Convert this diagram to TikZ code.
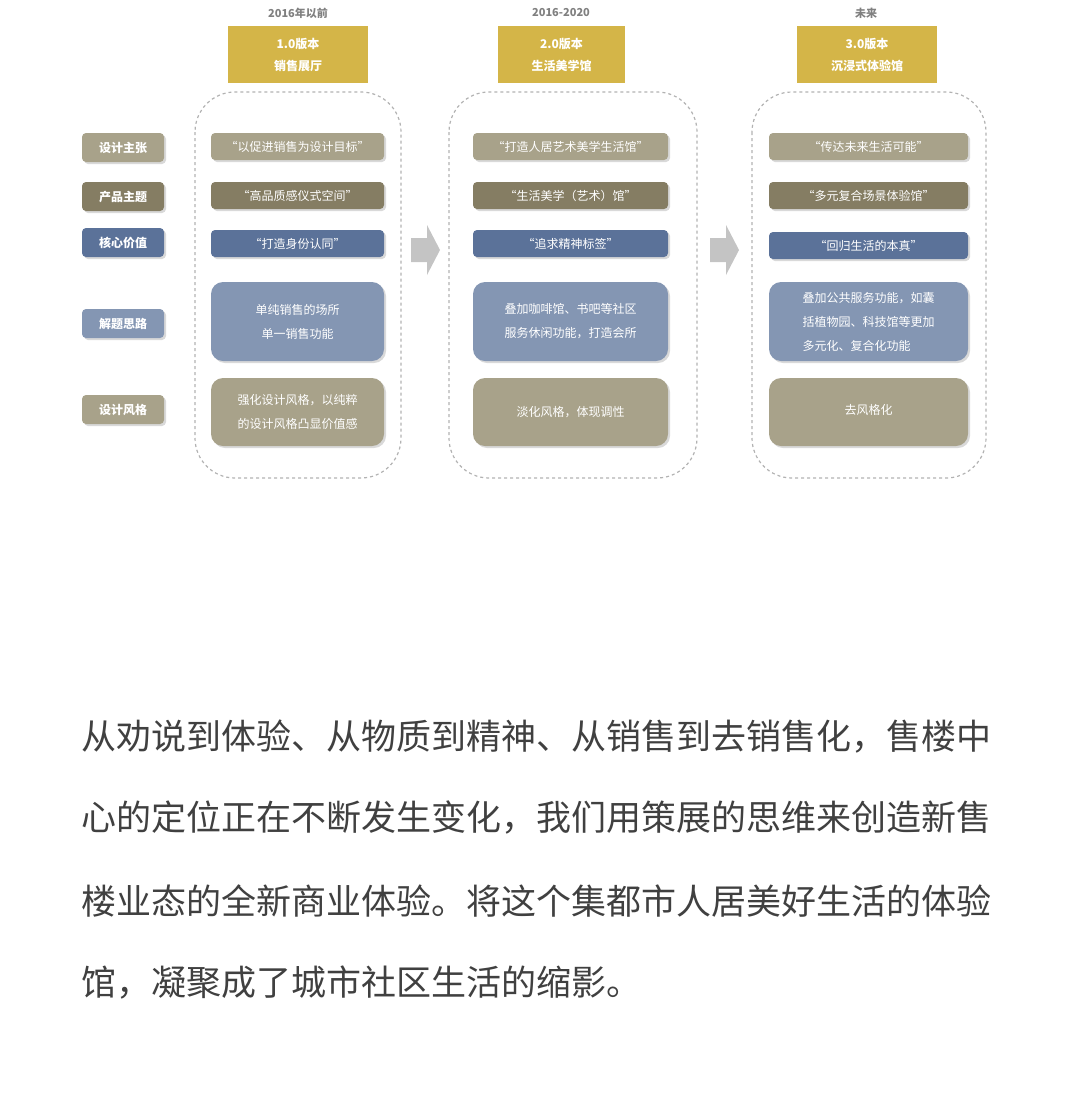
\documentclass[tikz,border=0pt]{standalone}
\usepackage{fontspec}
\setmainfont{Noto Sans CJK SC}
\usetikzlibrary{shadows}
\definecolor{beige}{HTML}{A8A28A}
\definecolor{olive}{HTML}{857D63}
\definecolor{blu}{HTML}{5B7299}
\definecolor{lblu}{HTML}{8496B3}
\definecolor{gold}{HTML}{D4B548}
\definecolor{arr}{HTML}{C4C4C4}
\tikzset{
 bx/.style={rounded corners=4pt,text=white,align=center,font=\fontsize{12}{20}\selectfont,drop shadow={shadow xshift=2pt,shadow yshift=-2pt,opacity=0.3}},
 lab/.style={bx,font=\fontsize{12}{14}\selectfont\bfseries},
 big/.style={rounded corners=12pt,text=white,align=center,font=\fontsize{12}{24}\selectfont,drop shadow={shadow xshift=2pt,shadow yshift=-2pt,opacity=0.3}},
 hd/.style={fill=gold,text=white,align=center,font=\fontsize{12}{22}\selectfont\bfseries},
 yr/.style={text=gray,font=\fontsize{11}{12}\selectfont\bfseries},
 cont/.style={draw=gray!60,dashed,line width=1.2pt,rounded corners=40pt},
 para/.style={anchor=west,text=black!75,font=\fontsize{35}{40}\selectfont},
}
\begin{document}
\begin{tikzpicture}[x=1pt,y=-1pt]
\useasboundingbox (0,0) rectangle (1080,1114);
% year labels and headers
\node[yr] (y1) at (298,13) {2016年以前};
\node[yr] (y2) at (561,13) {2016-2020};
\node[yr] (y3) at (866,13) {未来};
\path[hd] (228,26) rectangle node (h1) {1.0版本\\销售展厅} (368,83);
\path[hd] (498,26) rectangle node (h2) {2.0版本\\生活美学馆} (625,83);
\path[hd] (797,26) rectangle node (h3) {3.0版本\\沉浸式体验馆} (937,83);
% containers
\draw[cont] (195,92) rectangle (401,478);
\draw[cont] (449,92) rectangle (697,478);
\draw[cont] (752,92) rectangle (986,478);
% left labels
\path[lab,fill=beige] (82,133) rectangle node (l1) {设计主张} (164,162);
\path[lab,fill=olive] (82,182) rectangle node (l2) {产品主题} (164,211);
\path[lab,fill=blu] (82,228) rectangle node (l3) {核心价值} (164,257);
\path[lab,fill=lblu] (82,309) rectangle node (l4) {解题思路} (164,338);
\path[lab,fill=beige] (82,395) rectangle node (l5) {设计风格} (164,424);
% column 1
\path[bx,fill=beige] (211,133) rectangle node (a1) {“以促进销售为设计目标”} (384,160);
\path[bx,fill=olive] (211,182) rectangle node (a2) {“高品质感仪式空间”} (384,209);
\path[bx,fill=blu] (211,230) rectangle node (a3) {“打造身份认同”} (384,257);
\path[big,fill=lblu] (211,282) rectangle node (a4) {单纯销售的场所\\单一销售功能} (384,361);
\path[big,fill=beige] (211,378) rectangle node (a5) {强化设计风格，以纯粹\\的设计风格凸显价值感} (384,446);
% column 2
\path[bx,fill=beige] (473,133) rectangle node (b1) {“打造人居艺术美学生活馆”} (668,160);
\path[bx,fill=olive] (473,182) rectangle node (b2) {“生活美学（艺术）馆”} (668,209);
\path[bx,fill=blu] (473,230) rectangle node (b3) {“追求精神标签”} (668,257);
\path[big,fill=lblu] (473,282) rectangle node (b4) {叠加咖啡馆、书吧等社区\\服务休闲功能，打造会所} (668,361);
\path[big,fill=beige] (473,378) rectangle node (b5) {淡化风格，体现调性} (668,446);
% column 3
\path[bx,fill=beige] (769,133) rectangle node (c1) {“传达未来生活可能”} (968,160);
\path[bx,fill=olive] (769,182) rectangle node (c2) {“多元复合场景体验馆”} (968,209);
\path[bx,fill=blu] (769,232) rectangle node (c3) {“回归生活的本真”} (968,259);
\path[big,fill=lblu] (769,282) rectangle node[align=left] (c4) {叠加公共服务功能，如囊\\括植物园、科技馆等更加\\多元化、复合化功能} (968,361);
\path[big,fill=beige] (769,378) rectangle node[yshift=2pt] (c5) {去风格化} (968,446);
% arrows
\fill[arr] (411,238) -- (427,238) -- (427,225) -- (440,250) -- (427,275) -- (427,262) -- (411,262) -- cycle;
\fill[arr] (710,238) -- (726,238) -- (726,225) -- (739,250) -- (726,275) -- (726,262) -- (710,262) -- cycle;
% paragraph
\node[para] (p1) at (78,737) {从劝说到体验、从物质到精神、从销售到去销售化，售楼中};
\node[para] (p2) at (78,818) {心的定位正在不断发生变化，我们用策展的思维来创造新售};
\node[para] (p3) at (78,901) {楼业态的全新商业体验。将这个集都市人居美好生活的体验};
\node[para] (p4) at (78,983) {馆，凝聚成了城市社区生活的缩影。};
\end{tikzpicture}
\end{document}
